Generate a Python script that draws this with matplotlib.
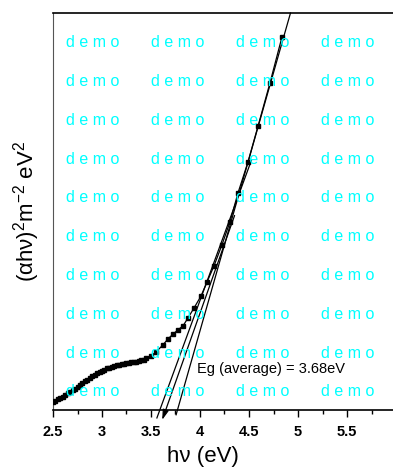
import matplotlib
matplotlib.use("Agg")
import matplotlib.pyplot as plt
import numpy as np

plt.rcParams["mathtext.fontset"] = "custom"
plt.rcParams["mathtext.rm"] = "Liberation Sans"
plt.rcParams["mathtext.it"] = "Liberation Sans:italic"
plt.rcParams["mathtext.bf"] = "Liberation Sans:bold"

# ---- data ----
hv = [2.500, 2.525, 2.550, 2.575, 2.600, 2.625, 2.650, 2.675, 2.700, 2.725,
      2.750, 2.775, 2.800, 2.825, 2.850, 2.875, 2.900, 2.925, 2.950, 2.975,
      3.000, 3.025, 3.050, 3.075, 3.100, 3.125, 3.150, 3.175, 3.200, 3.225,
      3.250, 3.275, 3.300, 3.325, 3.350, 3.375, 3.400, 3.425, 3.450,
      3.500, 3.551, 3.622, 3.673, 3.724, 3.776, 3.827, 3.878, 3.939, 4.010,
      4.071, 4.143, 4.224, 4.306, 4.388, 4.490, 4.592, 4.714, 4.837]
ahv2 = [0.20, 0.23, 0.27, 0.30, 0.34, 0.38, 0.42, 0.46, 0.50, 0.54,
        0.58, 0.63, 0.67, 0.72, 0.76, 0.81, 0.85, 0.89, 0.93, 0.96,
        0.99, 1.02, 1.05, 1.07, 1.09, 1.11, 1.13, 1.14, 1.16, 1.17,
        1.18, 1.19, 1.20, 1.21, 1.22, 1.23, 1.25, 1.27, 1.30,
        1.37, 1.46, 1.64, 1.79, 1.91, 2.02, 2.12, 2.32, 2.57, 2.87,
        3.22, 3.63, 4.16, 4.74, 5.47, 6.25, 7.15, 8.24, 9.40]

# linear extrapolation (tangent) lines: x-intercept Eg and slope
eg_intercepts = [3.59, 3.65, 3.77]
fit_slopes = [6.73, 6.97, 8.67]
fit_y_start = [-0.20, -0.25, -0.12]
fit_y_end = [6.30, 4.90, 10.0]
eg_average = 3.68

xticks = [2.5, 3, 3.5, 4, 4.5, 5, 5.5]
xticklabels = ["2.5", "3", "3.5", "4", "4.5", "5", "5.5"]

# ---- figure ----
W, H = 393, 476
fig = plt.figure(figsize=(W / 100, H / 100), dpi=100)
ax = fig.add_axes([53 / W, 66 / H, 343 / W, 397 / H])

font = "Liberation Sans"

# watermark
col_x = [93, 178, 263, 348]
row_y = [42.7 + 38.8 * k for k in range(10)]
for cy in row_y:
    for cx in col_x:
        fig.text(cx / W, 1 - cy / H, "d e m o", color="#00FFFF", fontsize=11.5,
                 family=font, ha="center", va="center", zorder=0)

ax.plot(hv, ahv2, color="black", lw=0.9, marker="s", ms=2.3,
        mec="black", mfc="black", zorder=3)

for i, (eg, s, y0, y1) in enumerate(zip(eg_intercepts, fit_slopes, fit_y_start, fit_y_end)):
    x0 = eg + y0 / s
    x1 = eg + y1 / s
    if i == 1:
        ax.annotate("", xy=(x0, y0), xytext=(x1, y1),
                    arrowprops=dict(arrowstyle="-|>,head_length=0.6,head_width=0.18",
                                    color="black", lw=0.9, shrinkA=0, shrinkB=0),
                    annotation_clip=False, zorder=2)
    else:
        ax.plot([x0, x1], [y0, y1], color="black", lw=0.9, clip_on=False, zorder=2)

ax.text(3.97, 0.93, f"Eg (average) = {eg_average:.2f}eV", family=font,
        fontsize=10.5, ha="left", va="baseline")

ax.set_xlim(2.5, 6.0)
ax.set_ylim(0, 10)
ax.set_xticks(xticks)
ax.set_xticklabels(xticklabels, family=font, fontweight="bold", fontsize=10.5)
ax.set_xticks(np.arange(2.75, 6.0, 0.5), minor=True)
ax.tick_params(axis="x", which="major", direction="out", length=5, width=1, pad=6)
ax.tick_params(axis="x", which="minor", direction="out", length=3, width=1)
ax.set_yticks([])

ax.spines["right"].set_visible(False)
ax.spines["left"].set_color("#555555")
for sp in ["top", "bottom"]:
    ax.spines[sp].set_linewidth(1.2)

ax.set_xlabel("h\u03bd (eV)", family=font, fontsize=16)
ax.xaxis.set_label_coords((203 - 53) / 343, (410 - 446) / 397)
ax.set_ylabel("(\u03b1h\u03bd)$^{2}$m$^{-2}$ eV$^{2}$", family=font, fontsize=16, labelpad=8)

fig.savefig("out.png", dpi=100)
